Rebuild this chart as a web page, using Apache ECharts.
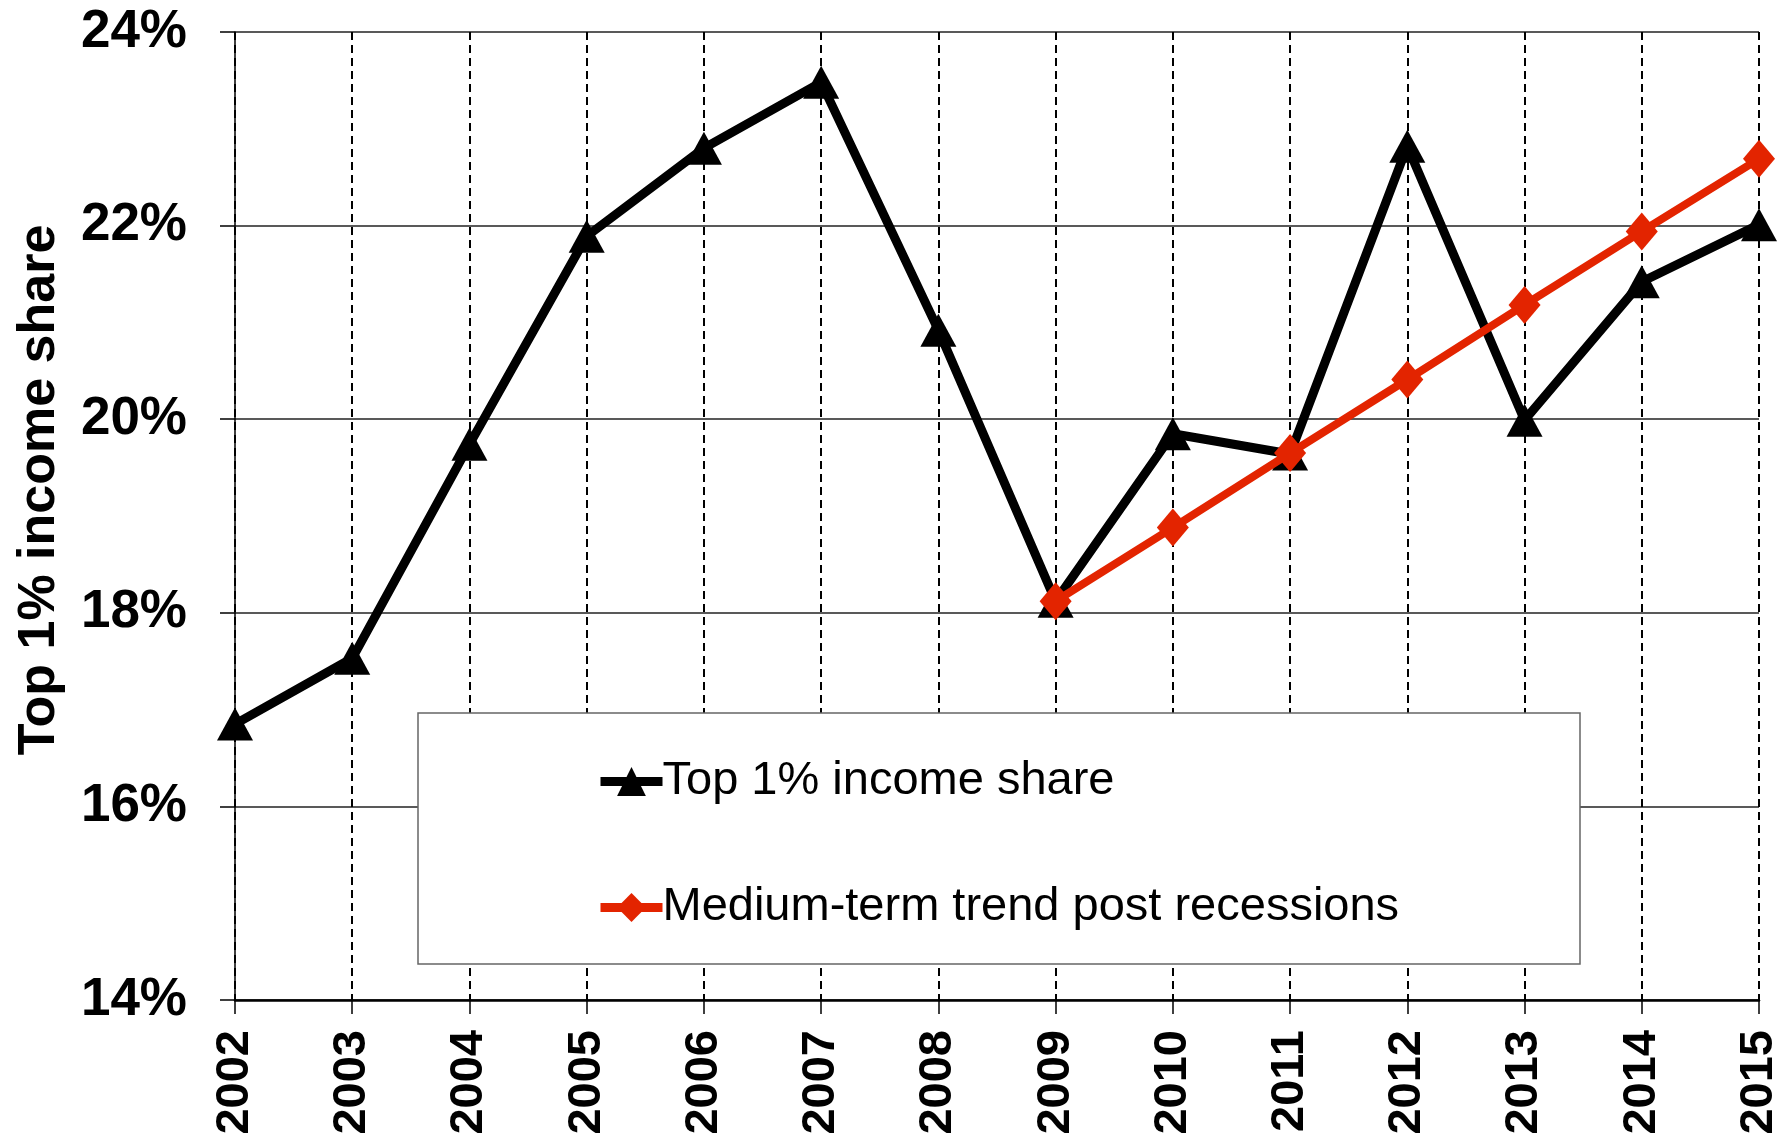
<!DOCTYPE html>
<html>
<head>
<meta charset="utf-8">
<script src="https://cdn.jsdelivr.net/npm/echarts@6/dist/echarts.min.js"></script>
<style>
html,body{margin:0;padding:0;background:#fff;}
#chart{width:1786px;height:1136px;}
</style>
</head>
<body>
<div id="chart"></div>
<script>
const years = ['2002','2003','2004','2005','2006','2007','2008','2009','2010','2011','2012','2013','2014','2015'];
const top1Share = [16.85, 17.53, 19.74, 21.89, 22.80, 23.48, 20.92, 18.12, 19.85, 19.64, 22.82, 19.99, 21.42, 22.01];
const trendPost = [null, null, null, null, null, null, null, 18.12, 18.88, 19.65, 20.41, 21.18, 21.94, 22.69];
const yMin = 14, yMax = 24, yStep = 2;

const chart = echarts.init(document.getElementById('chart'));
const font = '"Liberation Sans", Arial, Helvetica, sans-serif';
const black = '#000000', red = '#E32400';
chart.setOption({
  animation: false,
  backgroundColor: '#ffffff',
  grid: { left: 235, right: 27, top: 32, bottom: 136, containLabel: false, outerBoundsMode: 'none' },
  xAxis: {
    type: 'category',
    data: years,
    boundaryGap: false,
    axisLine: { show: true, lineStyle: { color: '#000', width: 2.5 } },
    axisTick: { show: true, length: 14, lineStyle: { color: '#000', width: 1.5 } },
    axisLabel: { rotate: 90, margin: 30, fontFamily: font, fontWeight: 'bold', fontSize: 47, color: '#000' },
    splitLine: { show: true, lineStyle: { color: '#000', width: 2, type: [8, 5] } }
  },
  yAxis: {
    type: 'value',
    min: yMin, max: yMax, interval: yStep,
    name: 'Top 1% income share',
    nameLocation: 'middle',
    nameRotate: 90,
    nameGap: 169,
    nameTextStyle: { fontFamily: font, fontWeight: 'bold', fontSize: 52, color: '#000', padding: [0, 0, 0, 52] },
    axisLine: { show: true, lineStyle: { color: '#000', width: 1.5 } },
    axisTick: { show: true, length: 15, lineStyle: { color: '#000', width: 1.5 } },
    axisLabel: { margin: 48, formatter: '{value}%', fontFamily: font, fontWeight: 'bold', fontSize: 53, color: '#000' },
    splitLine: { show: true, lineStyle: { color: '#222', width: 1.5 } }
  },
  graphic: [{
    type: 'rect', z: 10,
    shape: { x: 418, y: 713, width: 1162, height: 251 },
    style: { fill: '#fff', stroke: '#666', lineWidth: 1.5 }
  }],
  legend: {
    z: 20,
    orient: 'vertical',
    left: 596, top: 758,
    itemWidth: 62, itemHeight: 36,
    itemGap: 79,
    padding: 0,
    textStyle: { fontFamily: font, fontSize: 47, color: '#000', padding: [0, 0, 0, -5] },
    data: [
      { name: 'Top 1% income share', lineStyle: { width: 9, color: black }, itemStyle: { color: black } },
      { name: 'Medium-term trend post recessions', lineStyle: { width: 9, color: red }, itemStyle: { color: red } }
    ]
  },
  series: [
    {
      name: 'Top 1% income share',
      type: 'line',
      data: top1Share,
      symbol: 'triangle',
      symbolSize: [36, 33],
      showAllSymbol: true,
      lineStyle: { color: black, width: 9 },
      itemStyle: { color: black },
      z: 3
    },
    {
      name: 'Medium-term trend post recessions',
      type: 'line',
      data: trendPost,
      symbol: 'diamond',
      symbolSize: [32, 38],
      showAllSymbol: true,
      lineStyle: { color: red, width: 8 },
      itemStyle: { color: red },
      z: 4
    }
  ]
});
</script>
</body>
</html>
